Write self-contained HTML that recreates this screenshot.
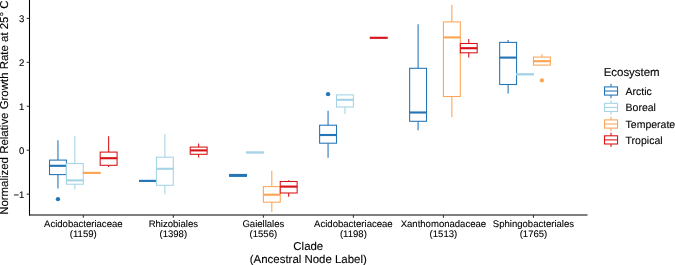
<!DOCTYPE html>
<html><head><meta charset="utf-8"><style>
html,body{margin:0;padding:0;background:#fff;}
body{width:675px;height:265px;overflow:hidden;}
svg{display:block;}
text{font-family:"Liberation Sans",sans-serif;fill:#000;text-rendering:geometricPrecision;stroke:#000;stroke-width:0.1px;}
.tk{font-size:9.55px;}
.ti{font-size:11.45px;}
.lt{font-size:10.5px;}
</style></head><body>
<svg style="will-change:transform" width="675" height="265" viewBox="0 0 675 265">
<rect width="675" height="265" fill="#fff"/>
<line x1="57.96" y1="140.20" x2="57.96" y2="160.10" stroke="#2475B6" stroke-width="1.07"/>
<line x1="57.96" y1="174.60" x2="57.96" y2="188.40" stroke="#2475B6" stroke-width="1.07"/>
<rect x="49.52" y="160.10" width="16.89" height="14.50" fill="#fff" stroke="#2475B6" stroke-width="1.07"/>
<line x1="49.52" y1="165.80" x2="66.41" y2="165.80" stroke="#2475B6" stroke-width="2.14"/>
<circle cx="57.96" cy="199.20" r="2.15" fill="#2475B6"/>
<line x1="74.85" y1="135.90" x2="74.85" y2="163.60" stroke="#A4D4E6" stroke-width="1.07"/>
<line x1="74.85" y1="184.20" x2="74.85" y2="189.50" stroke="#A4D4E6" stroke-width="1.07"/>
<rect x="66.41" y="163.60" width="16.89" height="20.60" fill="#fff" stroke="#A4D4E6" stroke-width="1.07"/>
<line x1="66.41" y1="180.40" x2="83.30" y2="180.40" stroke="#A4D4E6" stroke-width="2.14"/>
<rect x="83.30" y="172.34" width="16.89" height="1.13" fill="#FCA556" stroke="#FCA556" stroke-width="1.07"/>
<line x1="108.63" y1="136.30" x2="108.63" y2="152.10" stroke="#D81418" stroke-width="1.07"/>
<line x1="108.63" y1="165.30" x2="108.63" y2="166.90" stroke="#D81418" stroke-width="1.07"/>
<rect x="100.19" y="152.10" width="16.89" height="13.20" fill="#fff" stroke="#D81418" stroke-width="1.07"/>
<line x1="100.19" y1="158.20" x2="117.08" y2="158.20" stroke="#D81418" stroke-width="2.14"/>
<rect x="139.55" y="180.34" width="16.89" height="1.13" fill="#2475B6" stroke="#2475B6" stroke-width="1.07"/>
<line x1="164.88" y1="133.90" x2="164.88" y2="157.20" stroke="#A4D4E6" stroke-width="1.07"/>
<line x1="164.88" y1="185.30" x2="164.88" y2="194.20" stroke="#A4D4E6" stroke-width="1.07"/>
<rect x="156.44" y="157.20" width="16.89" height="28.10" fill="#fff" stroke="#A4D4E6" stroke-width="1.07"/>
<line x1="156.44" y1="168.80" x2="173.33" y2="168.80" stroke="#A4D4E6" stroke-width="2.14"/>
<line x1="198.66" y1="143.40" x2="198.66" y2="147.10" stroke="#D81418" stroke-width="1.07"/>
<line x1="198.66" y1="154.30" x2="198.66" y2="157.60" stroke="#D81418" stroke-width="1.07"/>
<rect x="190.22" y="147.10" width="16.89" height="7.20" fill="#fff" stroke="#D81418" stroke-width="1.07"/>
<line x1="190.22" y1="150.40" x2="207.11" y2="150.40" stroke="#D81418" stroke-width="2.14"/>
<rect x="229.58" y="174.44" width="16.89" height="1.93" fill="#2475B6" stroke="#2475B6" stroke-width="1.07"/>
<rect x="246.47" y="151.88" width="16.89" height="1.23" fill="#A4D4E6" stroke="#A4D4E6" stroke-width="1.07"/>
<line x1="271.81" y1="170.70" x2="271.81" y2="186.60" stroke="#FCA556" stroke-width="1.07"/>
<line x1="271.81" y1="202.20" x2="271.81" y2="212.00" stroke="#FCA556" stroke-width="1.07"/>
<rect x="263.36" y="186.60" width="16.89" height="15.60" fill="#fff" stroke="#FCA556" stroke-width="1.07"/>
<line x1="263.36" y1="194.70" x2="280.25" y2="194.70" stroke="#FCA556" stroke-width="2.14"/>
<line x1="288.69" y1="180.20" x2="288.69" y2="181.50" stroke="#D81418" stroke-width="1.07"/>
<line x1="288.69" y1="193.00" x2="288.69" y2="196.80" stroke="#D81418" stroke-width="1.07"/>
<rect x="280.25" y="181.50" width="16.89" height="11.50" fill="#fff" stroke="#D81418" stroke-width="1.07"/>
<line x1="280.25" y1="186.60" x2="297.14" y2="186.60" stroke="#D81418" stroke-width="2.14"/>
<line x1="328.06" y1="110.80" x2="328.06" y2="125.20" stroke="#2475B6" stroke-width="1.07"/>
<line x1="328.06" y1="143.20" x2="328.06" y2="157.70" stroke="#2475B6" stroke-width="1.07"/>
<rect x="319.61" y="125.20" width="16.89" height="18.00" fill="#fff" stroke="#2475B6" stroke-width="1.07"/>
<line x1="319.61" y1="135.00" x2="336.50" y2="135.00" stroke="#2475B6" stroke-width="2.14"/>
<circle cx="328.06" cy="94.20" r="2.15" fill="#2475B6"/>
<line x1="344.95" y1="94.90" x2="344.95" y2="94.90" stroke="#A4D4E6" stroke-width="1.07"/>
<line x1="344.95" y1="107.00" x2="344.95" y2="114.00" stroke="#A4D4E6" stroke-width="1.07"/>
<rect x="336.50" y="94.90" width="16.89" height="12.10" fill="#fff" stroke="#A4D4E6" stroke-width="1.07"/>
<line x1="336.50" y1="99.80" x2="353.39" y2="99.80" stroke="#A4D4E6" stroke-width="2.14"/>
<rect x="370.28" y="37.28" width="16.89" height="1.03" fill="#D81418" stroke="#D81418" stroke-width="1.07"/>
<line x1="418.09" y1="24.30" x2="418.09" y2="68.30" stroke="#2475B6" stroke-width="1.07"/>
<line x1="418.09" y1="121.30" x2="418.09" y2="130.30" stroke="#2475B6" stroke-width="1.07"/>
<rect x="409.64" y="68.30" width="16.89" height="53.00" fill="#fff" stroke="#2475B6" stroke-width="1.07"/>
<line x1="409.64" y1="112.50" x2="426.53" y2="112.50" stroke="#2475B6" stroke-width="2.14"/>
<line x1="451.87" y1="4.70" x2="451.87" y2="21.90" stroke="#FCA556" stroke-width="1.07"/>
<line x1="451.87" y1="96.50" x2="451.87" y2="117.30" stroke="#FCA556" stroke-width="1.07"/>
<rect x="443.42" y="21.90" width="16.89" height="74.60" fill="#fff" stroke="#FCA556" stroke-width="1.07"/>
<line x1="443.42" y1="37.40" x2="460.31" y2="37.40" stroke="#FCA556" stroke-width="2.14"/>
<line x1="468.75" y1="38.90" x2="468.75" y2="43.50" stroke="#D81418" stroke-width="1.07"/>
<line x1="468.75" y1="52.80" x2="468.75" y2="57.60" stroke="#D81418" stroke-width="1.07"/>
<rect x="460.31" y="43.50" width="16.89" height="9.30" fill="#fff" stroke="#D81418" stroke-width="1.07"/>
<line x1="460.31" y1="48.20" x2="477.20" y2="48.20" stroke="#D81418" stroke-width="2.14"/>
<line x1="508.11" y1="40.10" x2="508.11" y2="42.40" stroke="#2475B6" stroke-width="1.07"/>
<line x1="508.11" y1="84.50" x2="508.11" y2="93.40" stroke="#2475B6" stroke-width="1.07"/>
<rect x="499.67" y="42.40" width="16.89" height="42.10" fill="#fff" stroke="#2475B6" stroke-width="1.07"/>
<line x1="499.67" y1="57.60" x2="516.56" y2="57.60" stroke="#2475B6" stroke-width="2.14"/>
<rect x="516.56" y="73.69" width="16.89" height="1.23" fill="#A4D4E6" stroke="#A4D4E6" stroke-width="1.07"/>
<line x1="541.89" y1="54.30" x2="541.89" y2="57.10" stroke="#FCA556" stroke-width="1.07"/>
<line x1="541.89" y1="65.10" x2="541.89" y2="65.10" stroke="#FCA556" stroke-width="1.07"/>
<rect x="533.45" y="57.10" width="16.89" height="8.00" fill="#fff" stroke="#FCA556" stroke-width="1.07"/>
<line x1="533.45" y1="61.20" x2="550.34" y2="61.20" stroke="#FCA556" stroke-width="2.14"/>
<circle cx="541.89" cy="80.40" r="2.15" fill="#FCA556"/>
<line x1="29.5" y1="0" x2="29.5" y2="215.5" stroke="#000" stroke-width="1.07"/>
<line x1="28.97" y1="215.0" x2="587.5" y2="215.0" stroke="#000" stroke-width="1.07"/>
<line x1="26.7" y1="18.40" x2="29.5" y2="18.40" stroke="#333" stroke-width="1.07"/>
<text x="24.4" y="21.90" text-anchor="end" class="tk">3</text>
<line x1="26.7" y1="62.33" x2="29.5" y2="62.33" stroke="#333" stroke-width="1.07"/>
<text x="24.4" y="65.83" text-anchor="end" class="tk">2</text>
<line x1="26.7" y1="106.27" x2="29.5" y2="106.27" stroke="#333" stroke-width="1.07"/>
<text x="24.4" y="109.77" text-anchor="end" class="tk">1</text>
<line x1="26.7" y1="150.20" x2="29.5" y2="150.20" stroke="#333" stroke-width="1.07"/>
<text x="24.4" y="153.70" text-anchor="end" class="tk">0</text>
<line x1="26.7" y1="194.13" x2="29.5" y2="194.13" stroke="#333" stroke-width="1.07"/>
<text x="24.4" y="197.63" text-anchor="end" class="tk">−1</text>
<line x1="83.30" y1="215.0" x2="83.30" y2="217.8" stroke="#333" stroke-width="1.07"/>
<text x="83.30" y="226.9" text-anchor="middle" class="tk">Acidobacteriaceae</text>
<text x="83.30" y="237.2" text-anchor="middle" class="tk">(1159)</text>
<line x1="173.33" y1="215.0" x2="173.33" y2="217.8" stroke="#333" stroke-width="1.07"/>
<text x="173.33" y="226.9" text-anchor="middle" class="tk">Rhizobiales</text>
<text x="173.33" y="237.2" text-anchor="middle" class="tk">(1398)</text>
<line x1="263.36" y1="215.0" x2="263.36" y2="217.8" stroke="#333" stroke-width="1.07"/>
<text x="263.36" y="226.9" text-anchor="middle" class="tk">Gaiellales</text>
<text x="263.36" y="237.2" text-anchor="middle" class="tk">(1556)</text>
<line x1="353.39" y1="215.0" x2="353.39" y2="217.8" stroke="#333" stroke-width="1.07"/>
<text x="353.39" y="226.9" text-anchor="middle" class="tk">Acidobacteriaceae</text>
<text x="353.39" y="237.2" text-anchor="middle" class="tk">(1198)</text>
<line x1="443.42" y1="215.0" x2="443.42" y2="217.8" stroke="#333" stroke-width="1.07"/>
<text x="443.42" y="226.9" text-anchor="middle" class="tk">Xanthomonadaceae</text>
<text x="443.42" y="237.2" text-anchor="middle" class="tk">(1513)</text>
<line x1="533.45" y1="215.0" x2="533.45" y2="217.8" stroke="#333" stroke-width="1.07"/>
<text x="533.45" y="226.9" text-anchor="middle" class="tk">Sphingobacteriales</text>
<text x="533.45" y="237.2" text-anchor="middle" class="tk">(1765)</text>
<text x="308.3" y="250.1" text-anchor="middle" class="ti">Clade</text>
<text x="308.3" y="263.0" text-anchor="middle" class="ti">(Ancestral Node Label)</text>
<text transform="translate(7.9,107.7) rotate(-90)" text-anchor="middle" class="ti">Normalized Relative Growth Rate at 25° C</text>
<text x="603.7" y="75.5" class="ti">Ecosystem</text>
<line x1="611.02" y1="83.80" x2="611.02" y2="98.20" stroke="#2475B6" stroke-width="1.07"/>
<rect x="604.50" y="86.90" width="13.05" height="8.2" fill="#fff" stroke="#2475B6" stroke-width="1.07"/>
<line x1="604.50" y1="91.00" x2="617.55" y2="91.00" stroke="#2475B6" stroke-width="1.07"/>
<text x="625.6" y="94.90" class="lt">Arctic</text>
<line x1="611.02" y1="100.20" x2="611.02" y2="114.60" stroke="#A4D4E6" stroke-width="1.07"/>
<rect x="604.50" y="103.30" width="13.05" height="8.2" fill="#fff" stroke="#A4D4E6" stroke-width="1.07"/>
<line x1="604.50" y1="107.40" x2="617.55" y2="107.40" stroke="#A4D4E6" stroke-width="1.07"/>
<text x="625.6" y="111.30" class="lt">Boreal</text>
<line x1="611.02" y1="116.80" x2="611.02" y2="131.20" stroke="#FCA556" stroke-width="1.07"/>
<rect x="604.50" y="119.90" width="13.05" height="8.2" fill="#fff" stroke="#FCA556" stroke-width="1.07"/>
<line x1="604.50" y1="124.00" x2="617.55" y2="124.00" stroke="#FCA556" stroke-width="1.07"/>
<text x="625.6" y="127.90" class="lt">Temperate</text>
<line x1="611.02" y1="132.70" x2="611.02" y2="147.10" stroke="#D81418" stroke-width="1.07"/>
<rect x="604.50" y="135.80" width="13.05" height="8.2" fill="#fff" stroke="#D81418" stroke-width="1.07"/>
<line x1="604.50" y1="139.90" x2="617.55" y2="139.90" stroke="#D81418" stroke-width="1.07"/>
<text x="625.6" y="143.80" class="lt">Tropical</text>
</svg>
</body></html>
